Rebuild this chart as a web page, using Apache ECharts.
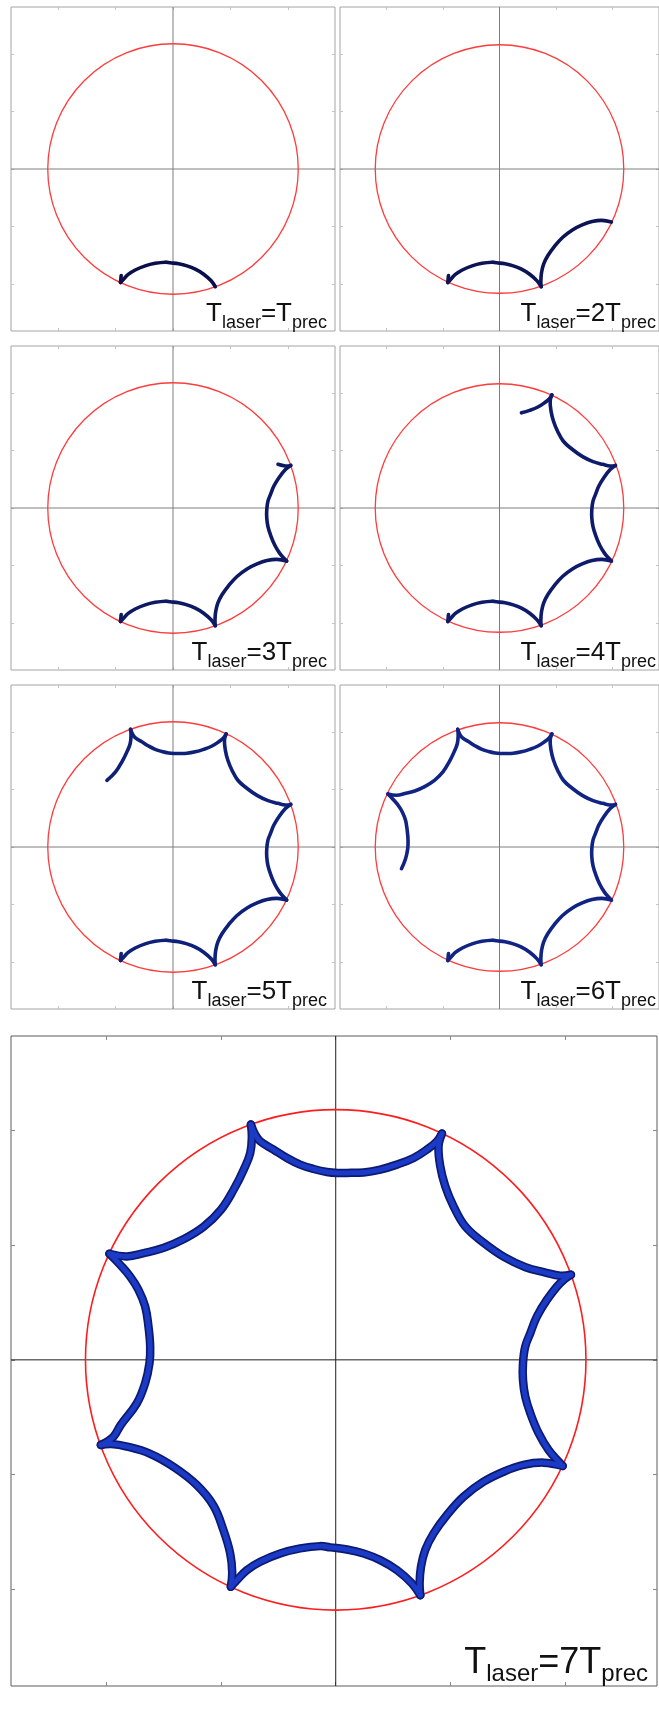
<!DOCTYPE html>
<html>
<head>
<meta charset="utf-8">
<title>T_laser = n T_prec</title>
<script src="https://cdn.jsdelivr.net/npm/echarts@6/dist/echarts.min.js"></script>
<style>
  html, body { margin: 0; padding: 0; background: #fff; }
  #chart { width: 659px; height: 1717px; }
</style>
</head>
<body>
<div id="chart"></div>
<script>
// axis units: one tick = 1, tick labels are hidden
const tickValues = [-2, -1, 0, 1, 2]
const circleRadius = 2.18

// cusps of the trajectory (they sit on the red circle)
const c1 = [-0.739, 2.049]
const c2 = [0.926, 1.970]
const c3 = [2.050, 0.741]
const c4 = [1.978, -0.924]
const c5 = [0.737, -2.049]
const c6 = [-0.914, -1.976]
const c7 = [-2.047, -0.741]
const c8 = [-1.972, 0.924]

// arcs between cusps
const arc12 = [c1, [-0.702, 1.962], [-0.658, 1.903], [-0.542, 1.831], [-0.425, 1.758], [-0.310, 1.700], [-0.193, 1.662], [-0.077, 1.636], [0.025, 1.627], [0.097, 1.628], [0.243, 1.632], [0.388, 1.657], [0.533, 1.700], [0.679, 1.758], [0.795, 1.831], [0.882, 1.903], c2]
const arc23 = [c2, [0.896, 1.860], [0.911, 1.686], [0.955, 1.511], [1.027, 1.337], [1.129, 1.162], [1.285, 1.023], [1.470, 0.894], [1.654, 0.807], [1.828, 0.760], [1.957, 0.732], c3]
const arc34 = [c3, [1.957, 0.669], [1.841, 0.523], [1.754, 0.378], [1.696, 0.233], [1.652, 0.116], [1.632, -0.029], [1.632, -0.174], [1.652, -0.320], [1.696, -0.465], [1.768, -0.639], [1.855, -0.785], [1.957, -0.901], c4]
const arc45 = [c4, [1.812, -0.895], [1.637, -0.915], [1.463, -0.974], [1.289, -1.061], [1.114, -1.192], [0.969, -1.351], [0.853, -1.511], [0.780, -1.656], [0.743, -1.802], [0.731, -1.947], c5]
const arc56 = [c5, [0.664, -1.947], [0.534, -1.831], [0.388, -1.744], [0.243, -1.686], [0.098, -1.651], [-0.048, -1.633], [-0.135, -1.622], [-0.310, -1.642], [-0.484, -1.686], [-0.658, -1.758], [-0.774, -1.831], [-0.861, -1.918], c6]
const arc67 = [c6, [-0.902, -1.853], [-0.920, -1.684], [-0.980, -1.479], [-1.066, -1.268], [-1.212, -1.089], [-1.408, -0.935], [-1.621, -0.816], [-1.819, -0.755], [-1.956, -0.733], c7]
const arc78 = [c7, [-1.937, -0.669], [-1.875, -0.569], [-1.733, -0.378], [-1.661, -0.203], [-1.623, -0.029], [-1.617, 0.116], [-1.632, 0.290], [-1.661, 0.465], [-1.719, 0.610], [-1.792, 0.726], [-1.879, 0.828], c8]
const arc81 = [c8, [-1.820, 0.901], [-1.672, 0.930], [-1.498, 0.976], [-1.323, 1.052], [-1.150, 1.160], [-1.000, 1.307], [-0.884, 1.492], [-0.802, 1.656], [-0.745, 1.802], [-0.731, 1.947], c1]

// little hook after the last cusp (start of the next arc)
const tail = arc67.slice(0, 2)

const multiples = ['', '2', '3', '4', '5', '6', '7']

const panels = [
  { left: 11, top: 7, w: 324, h: 324, x: [-2.82, 2.82], y: [-2.82, 2.82], color: '#0a0e4a', arcs: [arc56, tail] },
  { left: 340, top: 7, w: 324, h: 324, x: [-2.82, 2.82], y: [-2.82, 2.82], color: '#0c1456', arcs: [arc45, arc56, tail] },
  { left: 11, top: 346, w: 324, h: 324, x: [-2.82, 2.82], y: [-2.82, 2.82], color: '#0d1962', arcs: [arc23.slice(-3), arc34, arc45, arc56, tail] },
  { left: 340, top: 346, w: 324, h: 324, x: [-2.82, 2.82], y: [-2.82, 2.82], color: '#0e1b6a', arcs: [arc12.slice(11), arc23, arc34, arc45, arc56, tail] },
  { left: 11, top: 685, w: 324, h: 324, x: [-2.82, 2.82], y: [-2.82, 2.82], color: '#0f2078', arcs: [arc81.slice(5), arc12, arc23, arc34, arc45, arc56, tail] },
  { left: 340, top: 685, w: 324, h: 324, x: [-2.82, 2.82], y: [-2.82, 2.82], color: '#112484', arcs: [arc78.slice(3), arc81, arc12, arc23, arc34, arc45, arc56, tail] },
  { left: 11, top: 1036, w: 646, h: 650, x: [-2.83, 2.80], y: [-2.84, 2.82], big: true, arcs: [arc12, arc23, arc34, arc45, arc56, arc67, arc78, arc81] }
]

const font = "'Liberation Sans', Arial, sans-serif"

const grid = []
const xAxis = []
const yAxis = []
const series = []
const title = []

// one custom series draws every arc of a panel as a smoothed polyline
const arcSeries = (p, ax, stroke, width, z) => ({
  type: 'custom', xAxisIndex: ax, yAxisIndex: ax, silent: true, z,
  data: p.arcs.map((arc, k) => [k]),
  renderItem: (params, api) => ({
    type: 'polyline',
    shape: { points: p.arcs[api.value(0)].map(pt => api.coord(pt)), smooth: 0.4 },
    style: { fill: null, stroke, lineWidth: width, lineCap: 'round', lineJoin: 'round' }
  })
})

panels.forEach((p, i) => {
  const big = !!p.big
  grid.push({
    left: p.left, top: p.top, width: p.w, height: p.h,
    show: true, borderColor: big ? '#5c5c5c' : '#a4a4a4', borderWidth: 1
  })
  const tick = {
    show: true, inside: true, length: big ? 4 : 3, customValues: tickValues,
    lineStyle: { color: big ? '#8a8a8a' : '#c4c4c4', width: 1 }
  }
  const line = { show: false, onZero: false }
  ;['bottom', 'top'].forEach(pos => xAxis.push({
    type: 'value', gridIndex: i, position: pos, min: p.x[0], max: p.x[1],
    axisLine: line, axisTick: tick, axisLabel: { show: false }, splitLine: { show: false }
  }))
  ;['left', 'right'].forEach(pos => yAxis.push({
    type: 'value', gridIndex: i, position: pos, min: p.y[0], max: p.y[1],
    axisLine: line, axisTick: tick, axisLabel: { show: false }, splitLine: { show: false }
  }))

  const ax = i * 2
  // zero axes + red reference circle
  series.push({
    type: 'custom', xAxisIndex: ax, yAxisIndex: ax, silent: true, z: 1,
    data: [[0, 0, circleRadius]],
    renderItem: (params, api) => {
      const o = api.coord([api.value(0), api.value(1)])
      const s = api.size([api.value(2), api.value(2)])
      const xl = api.coord([p.x[0], 0])[0]
      const xr = api.coord([p.x[1], 0])[0]
      const yb = api.coord([0, p.y[0]])[1]
      const yt = api.coord([0, p.y[1]])[1]
      const zero = { stroke: big ? '#1e1e1e' : '#7e7e7e', lineWidth: 1 }
      return {
        type: 'group',
        children: [
          { type: 'line', shape: { x1: xl, y1: o[1], x2: xr, y2: o[1] }, style: zero },
          { type: 'line', shape: { x1: o[0], y1: yt, x2: o[0], y2: yb }, style: zero },
          {
            type: 'circle', shape: { cx: o[0], cy: o[1], r: (s[0] + s[1]) / 2 },
            style: { fill: 'none', stroke: big ? '#ff1c1c' : '#ff3b3b', lineWidth: big ? 1.6 : 1.3 }
          }
        ]
      }
    }
  })

  if (big) {
    series.push(arcSeries(p, ax, '#0c1a72', 8.5, 3))
    series.push(arcSeries(p, ax, '#1b3bc6', 5, 4))
  } else {
    series.push(arcSeries(p, ax, p.color, 3.6, 3))
  }

  // T_laser = n T_prec label, bottom right of each panel
  const F = big ? 36 : 26
  const f = big ? 24 : 18
  const d = 8
  const base = big ? 1672 : p.top + p.h - 11
  const textRight = big ? 648 : p.left + 316
  title.push({
    text: '{m|T}{s|laser}{m|=' + multiples[i] + 'T}{s|prec}',
    right: 659 - textRight,
    top: base - 0.755 * F,
    padding: 0,
    textStyle: {
      fontFamily: font,
      fontWeight: 'normal',
      rich: {
        m: { fontFamily: font, fontWeight: 'normal', fontSize: F, color: '#111', verticalAlign: 'top' },
        s: { fontFamily: font, fontWeight: 'normal', fontSize: f, color: '#111', verticalAlign: 'top', padding: [0.755 * (F - f) + d, 0, 0, 0] }
      }
    }
  })
})

const chart = echarts.init(document.getElementById('chart'))
chart.setOption({
  animation: false,
  backgroundColor: '#fff',
  title,
  grid,
  xAxis,
  yAxis,
  series
})
</script>
</body>
</html>
